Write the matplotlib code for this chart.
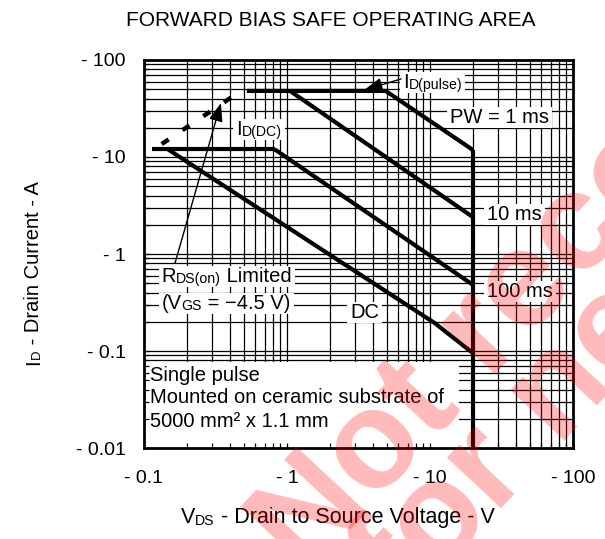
import matplotlib
matplotlib.use('Agg')
import matplotlib.pyplot as plt
from matplotlib.patches import Rectangle

plt.rcParams['font.family'] = ['Liberation Sans', 'DejaVu Sans']
plt.rcParams['lines.scale_dashes'] = False

# Datos (magnitudes; el signo negativo va en las etiquetas de los ejes)
vds_pulse = [0.525, 4.9, 20.0]      # ID(pulse) y luego PW = 1 ms
id_pulse = [48.0, 48.0, 11.8]
vds_10ms = [1.05, 20.0]
id_10ms = [48.0, 2.4]
vds_dc_flat = [0.114, 0.82]
id_dc_flat = [12.0, 12.0]
vds_100ms = [0.82, 20.0]
id_100ms = [12.0, 0.48]
vds_dc = [0.147, 10.8, 20.0]
id_dc = [12.0, 0.194, 0.095]
vds_limit = [20.0, 20.0]
id_limit = [11.8, 0.01]
vds_rds = [0.133, 0.454]
id_rds = [13.6, 45.7]

x_ticks = [0.1, 1, 10, 100]
x_ticklabels = ['- 0.1', '- 1', '- 10', '- 100']
y_ticks = [0.01, 0.1, 1, 10, 100]
y_ticklabels = ['- 0.01', '- 0.1', '- 1', '- 10', '- 100']

x_grid = [m * 10.0 ** e for e in (-1, 0, 1) for m in range(1, 10)] + [100]
y_grid = [m * 10.0 ** e for e in (-2, -1, 0, 1) for m in range(1, 10)] + [100]

fig = plt.figure(figsize=(6.05, 5.39), dpi=100)
ax = fig.add_axes([0.238, 0.1688, 0.709, 0.7199])
ax.set_xscale('log')
ax.set_yscale('log')
ax.set_xlim(0.1, 100)
ax.set_ylim(0.01, 100)

# Rejilla
ax.vlines(x_grid, 0.01, 100, color='black', lw=0.9, zorder=0.5)
ax.hlines(y_grid, 0.1, 100, color='black', lw=0.9, zorder=0.5)

# Curvas SOA
lw = 3.0
for xs, ys in [(vds_pulse, id_pulse), (vds_10ms, id_10ms), (vds_dc_flat, id_dc_flat),
               (vds_100ms, id_100ms), (vds_dc, id_dc), (vds_limit, id_limit)]:
    ax.plot(xs, ys, color='black', lw=lw, solid_capstyle='butt', zorder=2)
ax.plot(vds_rds, id_rds, color='black', lw=3.2, dashes=(6, 12), dash_capstyle='butt', zorder=2)

# Ejes
ax.set_xticks(x_ticks)
ax.set_xticklabels(x_ticklabels)
ax.set_yticks(y_ticks)
ax.set_yticklabels(y_ticklabels)
ax.tick_params(which='both', direction='in', length=3.6, width=0.9, color='black')
ax.tick_params(axis='x', which='major', labelsize=14, pad=16)
ax.tick_params(axis='y', which='major', labelsize=14, pad=13)
ax.tick_params(which='minor', labelbottom=False, labelleft=False)
for s in ax.spines.values():
    s.set_linewidth(2.0)
    s.set_zorder(3)

# Caja blanca de la nota
ax.add_patch(Rectangle((0.1, 0.01), 15.9 - 0.1, 0.0769 - 0.01, fc='white', ec='none', zorder=1))


def rich(parts, x, y, size, target=ax, va='center'):
    t = target.text(x, y, parts[0][0], fontsize=size * parts[0][1], ha='left', va=va, zorder=4)
    runs = [t]
    for s, k in parts[1:]:
        t = target.annotate(s, xy=(1, 0), xycoords=t, fontsize=size * k,
                            ha='left', va='bottom', zorder=4)
        runs.append(t)
    return runs


fs = 14.5
sub = 0.7
labels = [
    rich([('I', 1), ('D(pulse)', sub)], 6.47, 58.6, fs),
    rich([('PW = 1 ms', 1)], 13.8, 25.8, fs),
    rich([('I', 1), ('D(DC)', sub)], 0.44, 19.0, fs),
    rich([('10 ms', 1)], 25.1, 2.53, fs),
    rich([('100 ms', 1)], 25.1, 0.41, fs),
    rich([('R', 1), ('DS(on)', sub), (' Limited', 1)], 0.133, 0.58, fs),
    rich([('(V', 1), ('GS', sub), (' = \u22124.5 V)', 1)], 0.133, 0.31, fs),
    rich([('DC', 1)], 2.76, 0.249, fs),
]
ax.text(0.111, 0.0563, 'Single pulse', fontsize=fs, ha='left', va='center', zorder=4)
ax.text(0.111, 0.0333, 'Mounted on ceramic substrate of', fontsize=fs, ha='left', va='center', zorder=4)
ax.text(0.111, 0.0187, '5000 mm\u00b2 x 1.1 mm', fontsize=fs, ha='left', va='center', zorder=4)

# Flechas
arrow = dict(arrowstyle='-|>,head_length=0.8,head_width=0.3', color='black', lw=1.0,
             mutation_scale=14, shrinkA=0, shrinkB=0)
ax.annotate('', xy=(3.47, 49.1), xytext=(6.27, 63.7), arrowprops=arrow, zorder=3)
ax.annotate('', xy=(0.345, 36.0), xytext=(0.165, 0.81), arrowprops=arrow, zorder=3)

# Titulo y etiquetas de ejes
fig.text(331 / 605, 1 - 20 / 539, 'FORWARD BIAS SAFE OPERATING AREA', fontsize=15,
         ha='center', va='center')
t = fig.text(181 / 605, 1 - 523 / 539, 'V', fontsize=15.5, ha='left', va='baseline')
t2 = ax.annotate('DS', xy=(1, 0), xycoords=t, fontsize=15.5 * 0.65, ha='left', va='bottom',
                 annotation_clip=False)
ax.annotate(' - Drain to Source Voltage - V', xy=(1, 0), xycoords=t2, fontsize=15.5,
            ha='left', va='bottom', annotation_clip=False)

y1 = fig.text(43 / 605, 1 - 365 / 539, 'I', fontsize=14.5, rotation=90, ha='right', va='bottom')
y2 = ax.annotate('D', xy=(1, 1), xycoords=y1, fontsize=14.5 * 0.65, rotation=90,
                 ha='right', va='bottom', annotation_clip=False)
ax.annotate(' - Drain Current - A', xy=(1, 1), xycoords=y2, fontsize=14.5, rotation=90,
            ha='right', va='bottom', annotation_clip=False)

# Fondos blancos de las etiquetas
fig.canvas.draw()
renderer = fig.canvas.get_renderer()
inv = ax.transAxes.inverted()
for runs in labels:
    x0 = min(r.get_window_extent(renderer).x0 for r in runs) - 3
    x1 = max(r.get_window_extent(renderer).x1 for r in runs) + 3
    y0 = min(r.get_window_extent(renderer).y0 for r in runs) - 1
    y1b = max(r.get_window_extent(renderer).y1 for r in runs) + 1
    (ax0, ay0), (ax1, ay1) = inv.transform([(x0, y0), (x1, y1b)])
    ax.add_patch(Rectangle((ax0, ay0), ax1 - ax0, ay1 - ay0, transform=ax.transAxes,
                           fc='white', ec='none', zorder=1.2))

# Marca de agua
wm = dict(fontsize=100, fontweight='bold', color='red', alpha=0.27, rotation=47,
          rotation_mode='anchor', ha='left', va='baseline', zorder=10)
fig.text(305 / 605, 1 - 578 / 539, 'Not recommended', **wm)
fig.text(405.7 / 605, 1 - 610.4 / 539, 'for new design', **wm)

fig.savefig('out.png', dpi=100)
